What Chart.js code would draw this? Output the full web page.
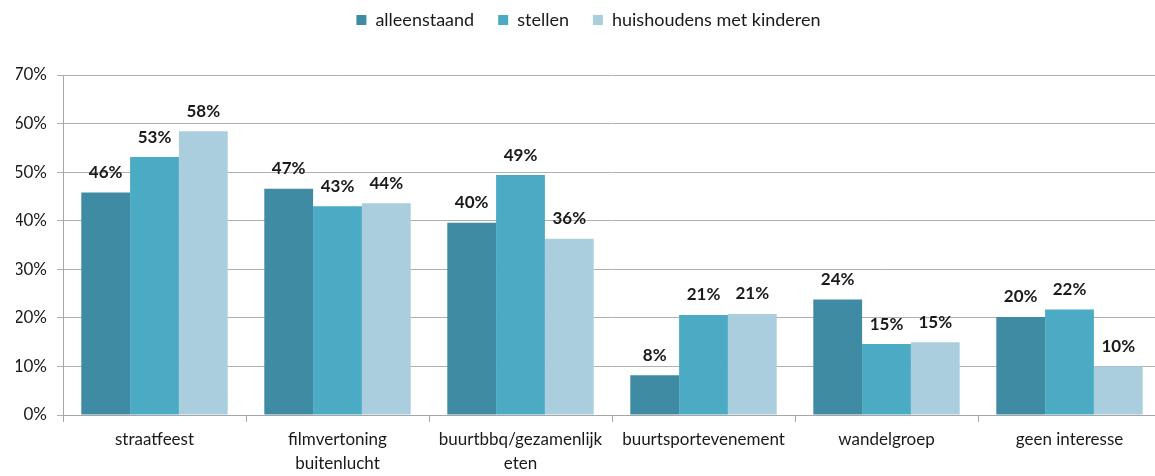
<!DOCTYPE html>
<html>
<head>
<meta charset="utf-8">
<script src="https://cdn.jsdelivr.net/npm/chart.js@4.4.1/dist/chart.umd.min.js"></script>
<style>
  html, body { margin: 0; padding: 0; background: #fff; overflow: hidden; }
  #wrap { width: 1170px; height: 476px; }
</style>
</head>
<body>
<div id="wrap"><canvas id="myChart" width="1170" height="476"></canvas></div>
<script>
// categories and series
const categories = [
    'straatfeest',
    ['filmvertoning', 'buitenlucht'],
    ['buurtbbq/gezamenlijk', 'eten'],
    'buurtsportevenement',
    'wandelgroep',
    'geen interesse'
];
const alleenstaand = [45.8, 46.6, 39.6, 8.2, 23.8, 20.2];
const stellen = [53.1, 43.0, 49.4, 20.6, 14.6, 21.7];
const kinderen = [58.4, 43.6, 36.3, 20.8, 15.0, 10.0];
const seriesNames = ['alleenstaand', 'stellen', 'huishoudens met kinderen'];
const yTicks = [0, 10, 20, 30, 40, 50, 60, 70];

const colors = ['#3e8ba3', '#4babc5', '#aacedd'];
const fontFam = 'Lato, "Open Sans", sans-serif';

// value labels above bars
const barLabels = {
    id: 'barLabels',
    afterDatasetsDraw(chart) {
        const ctx = chart.ctx;
        ctx.save();
        ctx.font = 'bold 17px ' + fontFam;
        ctx.fillStyle = '#1a1a1a';
        ctx.textAlign = 'center';
        ctx.textBaseline = 'middle';
        chart.data.datasets.forEach(function (ds, i) {
            const meta = chart.getDatasetMeta(i);
            meta.data.forEach(function (bar, j) {
                ctx.fillText(Math.round(ds.data[j]) + '%', bar.x, bar.y - 20);
            });
        });
        ctx.restore();
    }
};

// extra room under the legend
const legendGap = {
    id: 'legendGap',
    beforeInit(chart) {
        const fit = chart.legend.fit;
        chart.legend.fit = function () {
            fit.bind(chart.legend)();
            this.height += 36;
        };
    }
};

const ctx = document.getElementById('myChart').getContext('2d');
const myChart = new Chart(ctx, {
    type: 'bar',
    data: {
        labels: categories,
        datasets: [
            { label: seriesNames[0], data: alleenstaand, backgroundColor: colors[0] },
            { label: seriesNames[1], data: stellen, backgroundColor: colors[1] },
            { label: seriesNames[2], data: kinderen, backgroundColor: colors[2] }
        ]
    },
    options: {
        responsive: false,
        animation: false,
        layout: { padding: { left: 16, right: 9, top: -13, bottom: 0 } },
        datasets: {
            bar: { categoryPercentage: 0.8, barPercentage: 1.0 }
        },
        plugins: {
            tooltip: { enabled: false },
            legend: {
                position: 'top',
                labels: {
                    boxWidth: 10,
                    boxHeight: 10,
                    padding: 24,
                    color: '#1a1a1a',
                    font: { size: 18, family: fontFam }
                }
            }
        },
        scales: {
            x: {
                grid: {
                    offset: true,
                    drawOnChartArea: false,
                    drawTicks: true,
                    tickLength: 7,
                    color: '#a6a6a6'
                },
                border: { color: '#a6a6a6' },
                ticks: {
                    color: '#1a1a1a',
                    maxRotation: 0,
                    autoSkip: false,
                    padding: 6,
                    font: { size: 17, family: fontFam, lineHeight: 1.4 }
                },
                afterFit: function (s) { s.height = 61; }
            },
            y: {
                min: 0,
                max: 70,
                afterBuildTicks: function (s) { s.ticks = yTicks.map(function (v) { return { value: v }; }); },
                grid: { color: '#b0b0b0', tickLength: 6 },
                border: { color: '#a6a6a6' },
                ticks: {
                    color: '#1a1a1a',
                    padding: 10,
                    font: { size: 17, family: fontFam },
                    callback: function (v) { return v + '%'; }
                },
                afterFit: function (s) { s.width = 47; }
            }
        }
    },
    plugins: [barLabels, legendGap]
});
</script>
</body>
</html>
